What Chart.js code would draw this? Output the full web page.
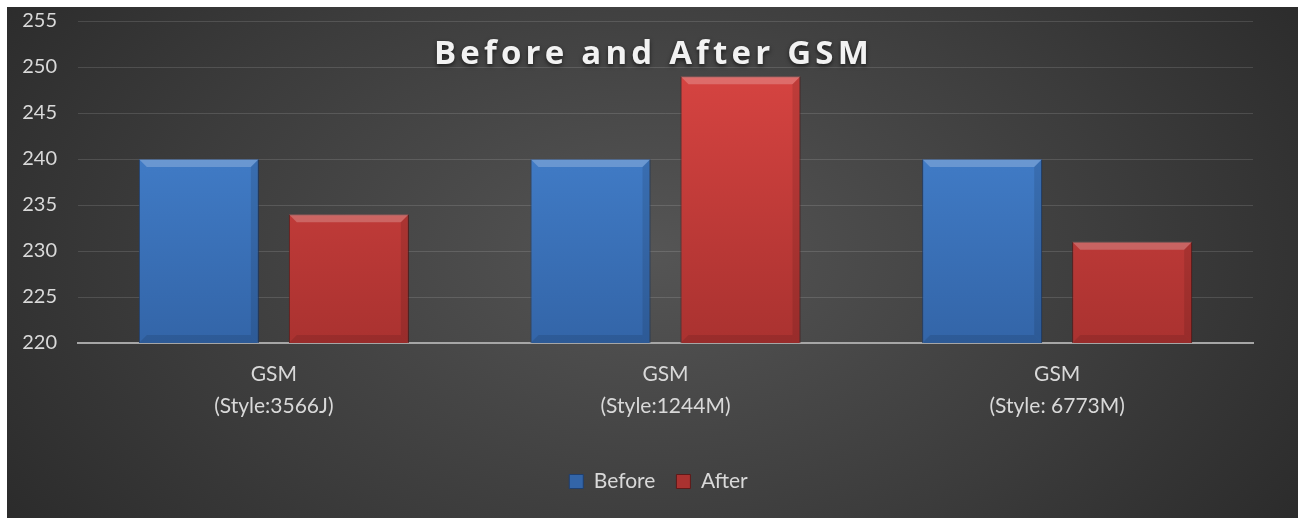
<!DOCTYPE html>
<html>
<head>
<meta charset="utf-8">
<script src="https://cdn.jsdelivr.net/npm/chart.js@4.4.1/dist/chart.umd.min.js"></script>
<style>
    html, body { margin: 0; padding: 0; background: #ffffff; }
    #wrap { position: absolute; left: 7px; top: 7px; width: 1291px; height: 511px; }
</style>
</head>
<body>
<div id="wrap"><canvas id="gsmChart"></canvas></div>
<script>
const categories = [
    ['GSM', '(Style:3566J)'],
    ['GSM', '(Style:1244M)'],
    ['GSM', '(Style: 6773M)']
];
const beforeValues = [240, 240, 240];
const afterValues = [234, 249, 231];
const chartTitle = 'Before and After GSM';

const textColor = '#d9d9d9';
const fontFamily = 'Lato, "Open Sans", sans-serif';

function barGradient(context, top, bottom) {
    const chart = context.chart;
    const area = chart.chartArea;
    if (!area) return top;
    const g = chart.ctx.createLinearGradient(0, area.top, 0, area.bottom);
    g.addColorStop(0, top);
    g.addColorStop(1, bottom);
    return g;
}

// dark radial background like the Excel style
const backgroundPlugin = {
    id: 'darkBackground',
    beforeDraw(chart) {
        const ctx = chart.ctx;
        const w = chart.width, h = chart.height;
        ctx.save();
        ctx.translate(w * 0.5, h * 0.48);
        ctx.scale(1.6, 1);
        const r = w * 0.42;
        const g = ctx.createRadialGradient(0, 0, 0, 0, 0, r);
        g.addColorStop(0, '#555555');
        g.addColorStop(0.55, '#3c3c3c');
        g.addColorStop(1, '#262626');
        ctx.fillStyle = g;
        ctx.fillRect(-w, -h, w * 2, h * 2);
        ctx.restore();
    }
};

// nudge the legend a little left, the Excel legend is not centred on the plot
const legendShiftPlugin = {
    id: 'legendShift',
    afterLayout(chart) {
        if (chart.legend) {
            chart.legend.left -= 7;
            chart.legend.right -= 7;
        }
    }
};

// bevel highlight on each bar
const bevelPlugin = {
    id: 'bevel',
    afterDatasetsDraw(chart) {
        const ctx = chart.ctx;
        const area = chart.chartArea;
        chart.data.datasets.forEach((ds, i) => {
            const meta = chart.getDatasetMeta(i);
            meta.data.forEach(bar => {
                const left = bar.x - bar.width / 2;
                const right = bar.x + bar.width / 2;
                const top = bar.y;
                const bottom = Math.min(bar.base, area.bottom);
                const b = 8;
                ctx.save();
                ctx.fillStyle = 'rgba(255,255,255,0.22)';
                ctx.beginPath();
                ctx.moveTo(left, top);
                ctx.lineTo(right, top);
                ctx.lineTo(right - b, top + b);
                ctx.lineTo(left + b, top + b);
                ctx.closePath();
                ctx.fill();
                ctx.fillStyle = 'rgba(0,0,0,0.1)';
                ctx.beginPath();
                ctx.moveTo(left, bottom);
                ctx.lineTo(right, bottom);
                ctx.lineTo(right - b, bottom - b);
                ctx.lineTo(left + b, bottom - b);
                ctx.closePath();
                ctx.fill();
                ctx.fillStyle = 'rgba(0,0,0,0.1)';
                ctx.beginPath();
                ctx.moveTo(right, top);
                ctx.lineTo(right, bottom);
                ctx.lineTo(right - b, bottom - b);
                ctx.lineTo(right - b, top + b);
                ctx.closePath();
                ctx.fill();
                ctx.restore();
            });
        });
    }
};

// title drawn over the plot, as in the original
const overlayTitlePlugin = {
    id: 'overlayTitle',
    afterDraw(chart) {
        const ctx = chart.ctx;
        ctx.save();
        ctx.font = 'bold 33px "Open Sans", sans-serif';
        ctx.letterSpacing = '4.2px';
        ctx.fillStyle = '#f2f2f2';
        ctx.textAlign = 'center';
        ctx.textBaseline = 'middle';
        ctx.shadowColor = 'rgba(0,0,0,0.6)';
        ctx.shadowBlur = 4;
        ctx.shadowOffsetY = 2;
        ctx.fillText(chartTitle, chart.width / 2 + 1, 48);
        ctx.restore();
    }
};

new Chart(document.getElementById('gsmChart'), {
    type: 'bar',
    data: {
        labels: categories,
        datasets: [
            {
                label: 'Before',
                data: beforeValues,
                backgroundColor: ctx => barGradient(ctx, '#4a8bdb', '#3365a8'),
                borderColor: '#1f3f6e',
                borderWidth: 1,
                borderSkipped: false
            },
            {
                label: 'After',
                data: afterValues,
                backgroundColor: ctx => barGradient(ctx, '#de4744', '#aa3230'),
                borderColor: '#5e1a19',
                borderWidth: 1,
                borderSkipped: false
            }
        ]
    },
    options: {
        responsive: true,
        maintainAspectRatio: false,
        animation: false,
        layout: {
            padding: { top: 14, right: 45, bottom: 16, left: 0 }
        },
        datasets: {
            bar: {
                categoryPercentage: 0.766,
                barPercentage: 0.8
            }
        },
        scales: {
            x: {
                grid: { display: false },
                border: { display: true, color: '#a6a6a6', width: 2 },
                ticks: {
                    color: textColor,
                    font: { family: fontFamily, size: 21, lineHeight: 1.52 },
                    padding: 7,
                    maxRotation: 0
                },
                afterFit(scale) { scale.height = 107; }
            },
            y: {
                min: 220,
                max: 255,
                grid: {
                    color: 'rgba(255,255,255,0.13)',
                    lineWidth: 1,
                    drawTicks: true,
                    tickLength: 21,
                    tickColor: 'rgba(0,0,0,0)'
                },
                border: { display: false },
                ticks: {
                    stepSize: 5,
                    color: textColor,
                    font: { family: fontFamily, size: 20 },
                    padding: 0
                },
                afterFit(scale) { scale.width = 71; }
            }
        },
        plugins: {
            title: { display: false },
            tooltip: { enabled: false },
            legend: {
                position: 'bottom',
                fullSize: false,
                labels: {
                    color: textColor,
                    font: { family: fontFamily, size: 21 },
                    boxWidth: 14,
                    boxHeight: 14,
                    padding: 21
                }
            }
        }
    },
    plugins: [backgroundPlugin, legendShiftPlugin, bevelPlugin, overlayTitlePlugin]
});
</script>
</body>
</html>
